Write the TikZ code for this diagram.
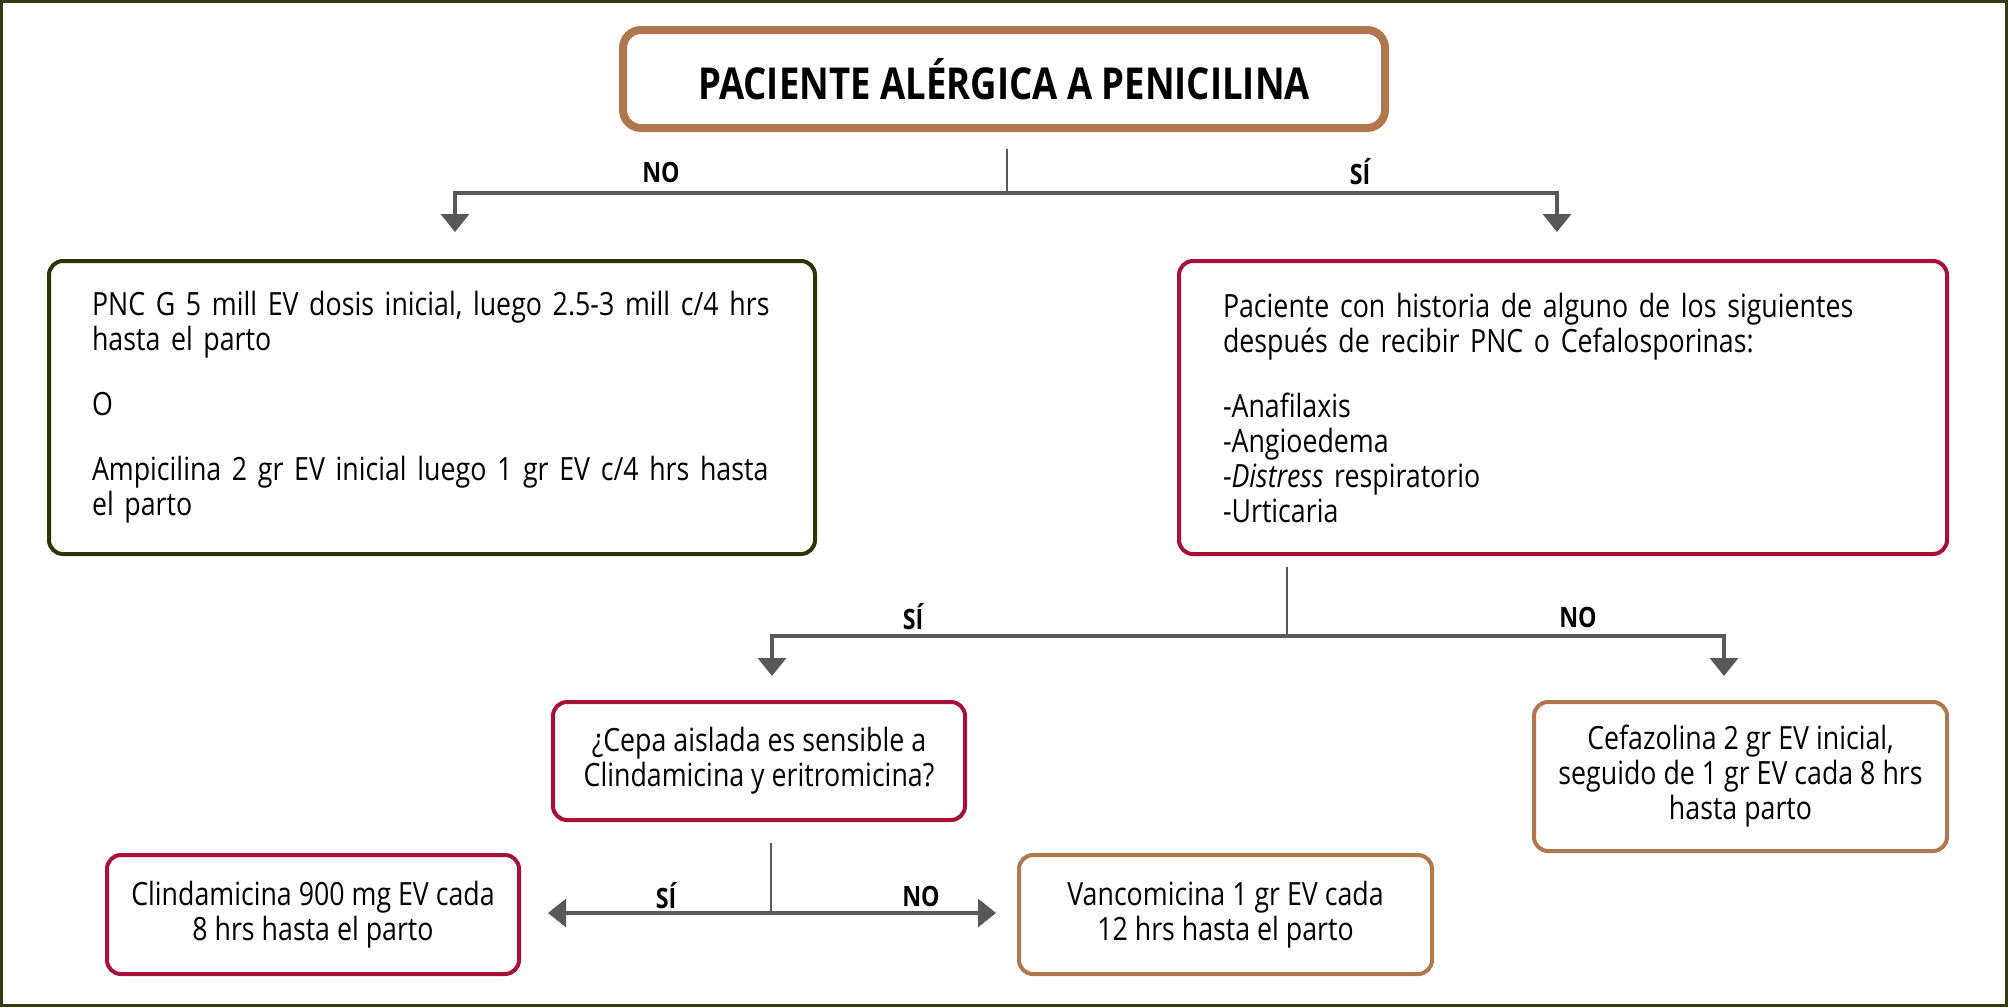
\documentclass[tikz,border=0pt]{standalone}
\usepackage{fontspec}
\setmainfont{Open Sans}[FakeStretch=0.836]
\newfontfamily\titlefont{Open Sans}[FakeStretch=0.83]
\usetikzlibrary{arrows.meta}
\definecolor{frameol}{RGB}{51,58,17}
\definecolor{boxol}{RGB}{45,52,10}
\definecolor{brownc}{RGB}{176,118,78}
\definecolor{crimc}{RGB}{168,16,56}
\definecolor{linec}{RGB}{88,88,88}
\begin{document}
\begin{tikzpicture}[x=1pt,y=-1pt,
  bodytxt/.style={font=\fontsize{32}{35}\selectfont},
  box/.style={draw, rounded corners=14pt, line width=4pt, inner sep=0pt, bodytxt},
  leftbox/.style={box, boxol},
  crimbox/.style={box, crimc, text=black},
  brownbox/.style={box, brownc, text=black},
  lbl/.style={font=\titlefont\bfseries\fontsize{28}{32}\selectfont, inner sep=0pt},
  stub/.style={draw=linec, line width=2pt},
  conn/.style={draw=linec, line width=3.5pt, -{Triangle[length=18pt,width=28pt]}}
]
\useasboundingbox (0,0) rectangle (2008,1007);
\draw[frameol, line width=3pt] (1.5,1.5) rectangle (2006.5,1005.5);

% nodes
\node[draw=brownc, line width=8pt, rounded corners=18pt, minimum width=762pt, minimum height=98pt, inner sep=0pt,
      font=\titlefont\bfseries\fontsize{44}{50}\selectfont] (top) at (1004,79) {PACIENTE ALÉRGICA A PENICILINA};

\node[leftbox, text=black, minimum width=766pt, minimum height=293pt, text width=680pt, align=left] (opt1) at (432,407.5)
  {PNC G 5 mill EV dosis inicial, luego 2.5-3 mill c/4 hrs\\hasta el parto\\[30pt]O\\[30pt]Ampicilina 2 gr EV inicial luego 1 gr EV c/4 hrs hasta\\el parto};

\node[crimbox, minimum width=768pt, minimum height=293pt, text width=680pt, align=left] (opt2) at (1563,407.5)
  {Paciente con historia de alguno de los siguientes\\después de recibir PNC o Cefalosporinas:\\[30pt]-Anafilaxis\\-Angioedema\\-\textit{Distress} respiratorio\\-Urticaria};

\node[crimbox, minimum width=412pt, minimum height=118pt, align=center] (cepa) at (759,761)
  {¿Cepa aislada es sensible a\\Clindamicina y eritromicina?};

\node[brownbox, minimum width=413pt, minimum height=149pt, align=center] (cefa) at (1740.5,776.5)
  {Cefazolina 2 gr EV inicial,\\seguido de 1 gr EV cada 8 hrs\\hasta parto};

\node[crimbox, minimum width=412pt, minimum height=119pt, align=center] (clinda) at (313,914.5)
  {Clindamicina 900 mg EV cada\\8 hrs hasta el parto};

\node[brownbox, minimum width=413pt, minimum height=119pt, align=center] (vanco) at (1225.5,914.5)
  {Vancomicina 1 gr EV cada\\12 hrs hasta el parto};

% level 1 connectors
\coordinate (j1) at (1007,193);
\coordinate (t1) at (455,232);
\coordinate (t2) at (1557,232);
\draw[stub] (top.south -| j1) ++(0,17) -- (j1);
\draw[conn] (j1) -| (t1);
\draw[conn] (j1) -| (t2);
\node[lbl] (lno1) at (661,172) {NO};
\node[lbl] (lsi1) at (1360,172) {SÍ};

% level 2 connectors
\coordinate (j2) at (1287,636);
\coordinate (t3) at (772,676);
\coordinate (t4) at (1724,676);
\draw[stub] (opt2.south -| j2) ++(0,11) -- (j2);
\draw[conn] (j2) -| (t3);
\draw[conn] (j2) -| (t4);
\node[lbl] (lsi2) at (913,617) {SÍ};
\node[lbl] (lno2) at (1578,617) {NO};

% level 3 connectors
\coordinate (j3) at (771,913);
\coordinate (t5) at (548,913);
\coordinate (t6) at (996,913);
\draw[stub] (cepa.south -| j3) ++(0,21) -- (j3);
\draw[conn] (j3) -- (t5);
\draw[conn] (j3) -- (t6);
\node[lbl] (lsi3) at (666,896) {SÍ};
\node[lbl] (lno3) at (921,896) {NO};
\end{tikzpicture}
\end{document}
